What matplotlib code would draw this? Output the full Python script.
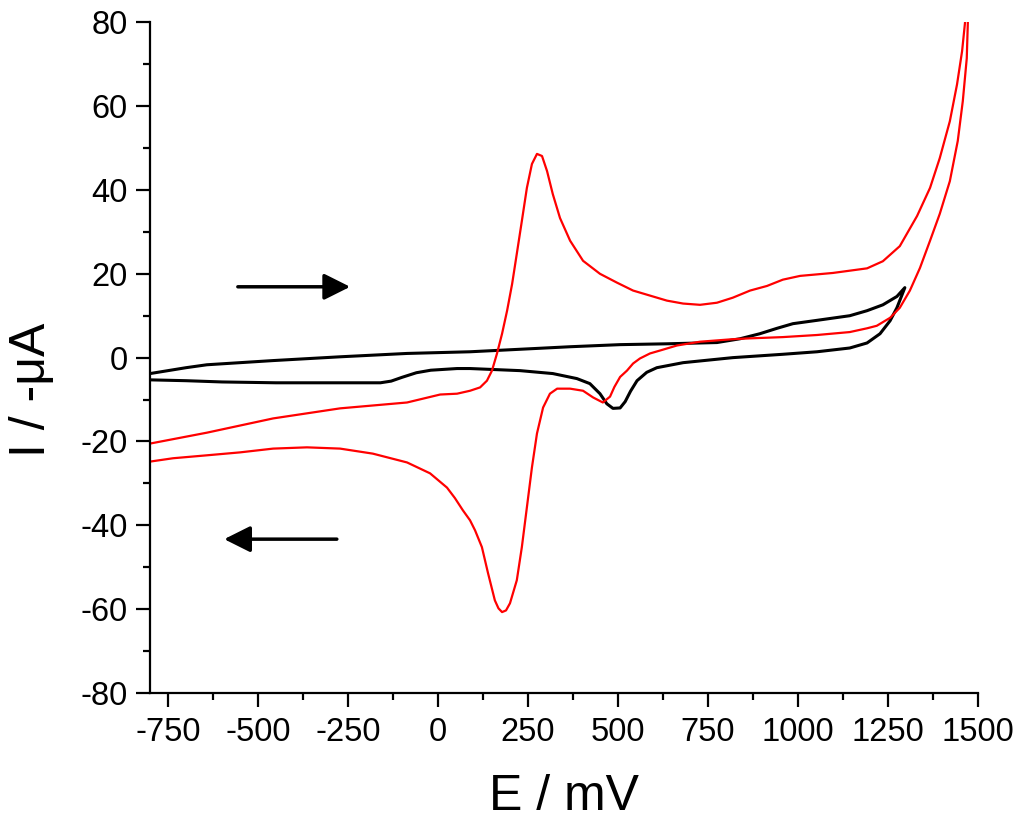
import numpy as np
import matplotlib
matplotlib.use("Agg")
import matplotlib.pyplot as plt
from matplotlib.ticker import MultipleLocator

plt.rcParams['font.family'] = ['Liberation Sans', 'DejaVu Sans']
plt.rcParams['axes.unicode_minus'] = False

# red CV, forward (anodic) scan
red_fwd_E = [-800, -642, -458, -272, -86, 6, 53, 89, 117, 136, 150, 164, 178, 192, 206, 219,
             233, 247, 261, 275, 289, 303, 319, 339, 367, 403, 450, 497, 542, 589, 636, 681,
             728, 775, 819, 867, 914, 958, 1006, 1097, 1192, 1236, 1283, 1331, 1367, 1394,
             1422, 1442, 1456, 1464, 1468]
red_fwd_I = [-20.5, -17.9, -14.5, -12.1, -10.7, -8.8, -8.6, -7.9, -7.1, -5.5, -3.1, 1.0, 5.7,
             11.2, 17.6, 24.8, 32.6, 40.5, 46.2, 48.6, 48.1, 44.5, 39.0, 33.3, 27.9, 23.1,
             20.0, 17.9, 16.0, 14.8, 13.6, 12.9, 12.6, 13.1, 14.3, 16.0, 17.1, 18.6, 19.5,
             20.2, 21.3, 23.0, 26.6, 33.8, 40.5, 47.6, 56.4, 65.2, 73.1, 79.8, 84.0]

# red CV, reverse scan
red_rev_E = [1474, 1472, 1469, 1458, 1444, 1422, 1394, 1367, 1339, 1311, 1283, 1256, 1219,
             1192, 1144, 1053, 958, 867, 819, 728, 664, 617, 589, 561, 542, 525, 506, 490,
             478, 458, 431, 403, 367, 331, 311, 292, 275, 261, 247, 233, 219, 200, 189, 178,
             168, 158, 139, 122, 103, 89, 69, 47, 25, -22, -86, -181, -272, -364, -458,
             -550, -642, -736, -800]
red_rev_I = [84.0, 80.0, 71.4, 61.2, 51.7, 42.1, 34.3, 27.9, 21.4, 16.0, 11.9, 9.5, 7.6, 7.0,
             6.1, 5.4, 4.9, 4.6, 4.4, 3.8, 2.9, 1.7, 1.0, -0.2, -1.4, -3.1, -4.6, -7.0, -9.3,
             -10.7, -9.5, -7.9, -7.4, -7.4, -8.6, -11.9, -18.1, -26.2, -35.7, -45.2, -53.1,
             -58.6, -60.3, -60.7, -59.8, -57.9, -51.4, -45.2, -41.2, -38.8, -36.4, -33.5,
             -31.0, -27.6, -25.0, -22.9, -21.7, -21.4, -21.7, -22.6, -23.3, -24.0, -24.8]

# black CV, forward scan
blk_fwd_E = [-800, -700, -642, -458, -272, -86, 89, 275, 367, 506, 636, 775, 839, 894, 942,
             986, 1053, 1144, 1192, 1236, 1275, 1297]
blk_fwd_I = [-3.8, -2.4, -1.7, -0.7, 0.2, 1.0, 1.4, 2.2, 2.6, 3.1, 3.3, 3.6, 4.5, 5.7, 7.0,
             8.1, 8.9, 10.0, 11.2, 12.6, 14.6, 16.7]

# black CV, reverse scan
blk_rev_E = [1297, 1275, 1256, 1228, 1192, 1144, 1053, 958, 819, 681, 608, 580, 553, 535, 520,
             506, 486, 469, 450, 422, 386, 319, 228, 89, 53, -20, -60, -100, -130, -160,
             -300, -450, -600, -700, -800]
blk_rev_I = [16.7, 11.9, 8.8, 5.7, 3.5, 2.3, 1.4, 0.8, 0.0, -1.2, -2.4, -3.5, -5.5, -8.0,
             -10.5, -12.0, -12.1, -11.0, -8.6, -6.2, -5.0, -3.8, -3.1, -2.6, -2.6, -3.0,
             -3.6, -4.7, -5.6, -6.0, -6.0, -6.0, -5.8, -5.5, -5.3]

# scan direction arrows (tail, tip)
arrow_up = [(-556, 16.9), (-244, 16.9)]
arrow_down = [(-281, -43.3), (-594, -43.3)]

fig = plt.figure(figsize=(10.24, 8.25), dpi=100)
ax = fig.add_axes([0.1465, 0.16, 0.955 - 0.1465, 0.973 - 0.16])

ax.plot(blk_fwd_E + blk_rev_E, blk_fwd_I + blk_rev_I, color='black', lw=2.2,
        solid_joinstyle='round')
ax.plot(red_fwd_E, red_fwd_I, color='#ff0000', lw=1.6)
ax.plot(red_rev_E, red_rev_I, color='#ff0000', lw=1.6)

for tail, tip in [arrow_up, arrow_down]:
    ax.annotate('', xy=tip, xytext=tail,
                arrowprops=dict(arrowstyle='-|>,head_length=1.6,head_width=0.8',
                                mutation_scale=10, lw=2.5, color='black',
                                shrinkA=0, shrinkB=0))

ax.set_xlim(-800, 1500)
ax.set_ylim(-80, 80)
ax.xaxis.set_major_locator(MultipleLocator(250))
ax.xaxis.set_minor_locator(MultipleLocator(125))
ax.yaxis.set_major_locator(MultipleLocator(20))
ax.yaxis.set_minor_locator(MultipleLocator(10))

for s in ['top', 'right']:
    ax.spines[s].set_visible(False)
for s in ['left', 'bottom']:
    ax.spines[s].set_linewidth(1.6)

ax.tick_params(which='major', direction='out', length=10, width=1.6, labelsize=23.5)
ax.tick_params(which='minor', direction='out', length=5, width=1.6)
ax.tick_params(axis='x', which='major', pad=7)
ax.tick_params(axis='y', which='major', pad=6)

ax.set_xlabel('E / mV', fontsize=36, labelpad=19)
ax.set_ylabel('I / -\u03bcA', fontsize=36)
ax.yaxis.set_label_coords(-0.115, 0.452)

fig.savefig('out.png', dpi=100)
